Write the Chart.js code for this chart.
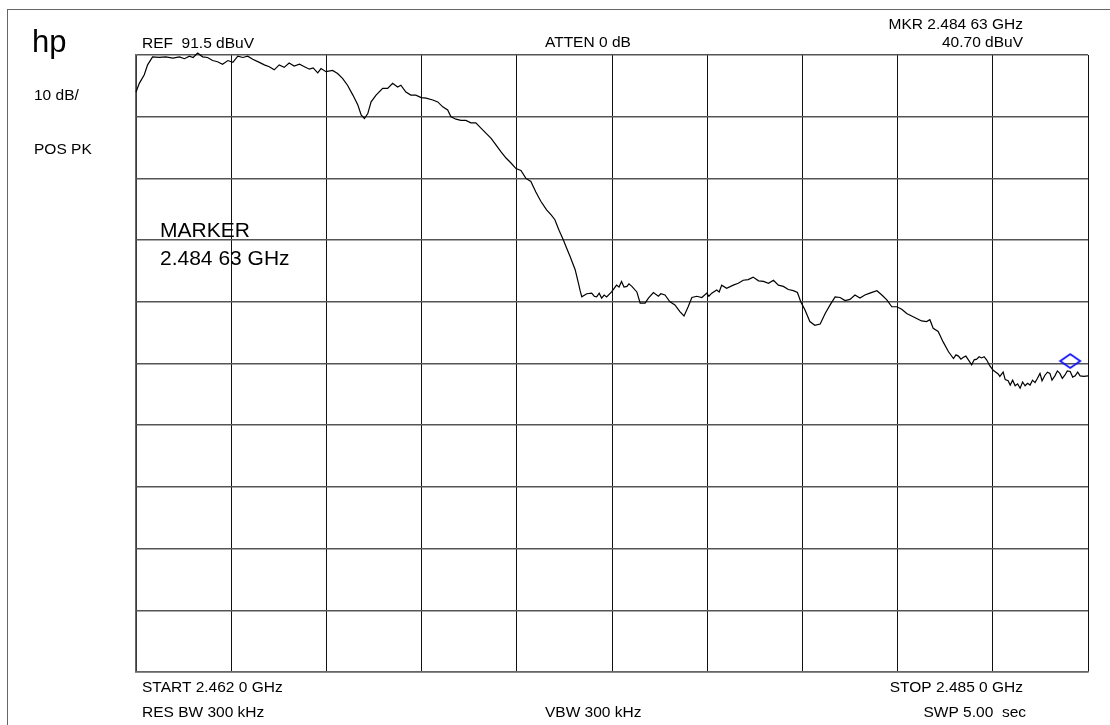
<!DOCTYPE html>
<html>
<head>
<meta charset="utf-8">
<title>Spectrum plot</title>
<script src="https://cdn.jsdelivr.net/npm/chart.js@4/dist/chart.umd.min.js"></script>
<style>
  html, body { margin: 0; padding: 0; background: #fff; }
  #wrap { width: 1110px; height: 725px; position: relative; }
</style>
</head>
<body>
<div id="wrap"><canvas id="myChart" width="1110" height="725"></canvas></div>
<script>
// sweep settings (GHz shown as MHz on the x scale)
var startMHz = 2462.0;
var stopMHz = 2485.0;
var refLevel = 91.5;   // dBuV, top line
var dbPerDiv = 10;

// trace
var freqMHz = [
  2462.00, 2462.08, 2462.20, 2462.28, 2462.40, 2462.56, 2462.72, 2462.89, 2463.05, 2463.17,
  2463.29, 2463.38, 2463.49, 2463.61, 2463.73, 2463.85, 2463.97, 2464.09, 2464.22, 2464.34,
  2464.46, 2464.58, 2464.70, 2464.82, 2464.98, 2465.10, 2465.22, 2465.34, 2465.46, 2465.58,
  2465.70, 2465.82, 2465.95, 2466.07, 2466.19, 2466.28, 2466.39, 2466.47, 2466.59, 2466.75,
  2466.87, 2466.99, 2467.11, 2467.24, 2467.36, 2467.44, 2467.52, 2467.60, 2467.68, 2467.80,
  2467.96, 2468.08, 2468.20, 2468.32, 2468.40, 2468.52, 2468.64, 2468.76, 2468.89, 2469.01,
  2469.17, 2469.29, 2469.41, 2469.53, 2469.61, 2469.73, 2469.85, 2469.97, 2470.09, 2470.21,
  2470.34, 2470.46, 2470.58, 2470.70, 2470.82, 2470.94, 2471.06, 2471.18, 2471.30, 2471.42,
  2471.54, 2471.66, 2471.78, 2471.92, 2472.03, 2472.12, 2472.22, 2472.32, 2472.41, 2472.49,
  2472.61, 2472.69, 2472.73, 2472.77, 2472.89, 2473.01, 2473.07, 2473.13, 2473.19, 2473.25,
  2473.31, 2473.37, 2473.49, 2473.61, 2473.67, 2473.73, 2473.79, 2473.86, 2473.91, 2473.98,
  2474.10, 2474.18, 2474.30, 2474.38, 2474.50, 2474.62, 2474.68, 2474.78, 2474.90, 2475.02,
  2475.14, 2475.24, 2475.34, 2475.43, 2475.55, 2475.67, 2475.79, 2475.84, 2475.91, 2476.03,
  2476.09, 2476.15, 2476.27, 2476.43, 2476.55, 2476.67, 2476.79, 2476.91, 2477.04, 2477.16,
  2477.28, 2477.40, 2477.52, 2477.64, 2477.76, 2477.88, 2477.98, 2478.06, 2478.16, 2478.28,
  2478.40, 2478.53, 2478.65, 2478.77, 2478.89, 2479.01, 2479.13, 2479.25, 2479.37, 2479.49,
  2479.61, 2479.73, 2479.90, 2480.02, 2480.14, 2480.26, 2480.38, 2480.50, 2480.62, 2480.74,
  2480.86, 2480.98, 2481.10, 2481.18, 2481.26, 2481.38, 2481.50, 2481.63, 2481.75, 2481.81,
  2481.87, 2481.93, 2481.99, 2482.05, 2482.11, 2482.19, 2482.25, 2482.31, 2482.37, 2482.43,
  2482.49, 2482.55, 2482.63, 2482.71, 2482.75, 2482.83, 2482.87, 2482.95, 2483.00, 2483.07,
  2483.12, 2483.18, 2483.24, 2483.30, 2483.36, 2483.42, 2483.48, 2483.54, 2483.60, 2483.66,
  2483.72, 2483.78, 2483.84, 2483.89, 2483.96, 2484.02, 2484.08, 2484.13, 2484.20, 2484.26,
  2484.32, 2484.38, 2484.44, 2484.50, 2484.57, 2484.63, 2484.69, 2484.75, 2484.81, 2484.90,
  2485.00
];
var levelDbuV = [
  85.5, 86.9, 88.3, 89.9, 91.2, 91.1, 91.2, 91.0, 91.2, 90.9,
  91.3, 91.1, 91.8, 91.2, 91.1, 90.6, 90.4, 90.0, 90.6, 90.3,
  91.3, 91.1, 91.3, 90.8, 90.3, 89.9, 89.6, 89.1, 89.9, 89.5,
  90.2, 89.7, 90.0, 89.6, 89.2, 89.4, 88.6, 89.3, 88.8, 89.0,
  88.5, 87.7, 86.6, 85.0, 83.4, 81.8, 81.2, 82.0, 83.9, 85.0,
  86.1, 86.1, 86.9, 86.3, 86.6, 85.5, 85.0, 85.0, 84.6, 84.5,
  84.2, 83.9, 83.1, 82.6, 81.5, 81.1, 80.9, 80.9, 80.5, 80.5,
  79.6, 78.8, 78.0, 76.9, 75.8, 74.8, 74.0, 73.1, 72.8, 71.5,
  71.0, 69.3, 67.8, 66.4, 65.6, 64.8, 63.1, 61.6, 60.1, 58.8,
  56.7, 54.5, 53.3, 52.3, 52.8, 52.9, 52.4, 52.3, 52.9, 52.1,
  52.6, 52.3, 53.1, 54.2, 53.9, 54.8, 53.9, 54.0, 54.4, 54.0,
  53.1, 51.3, 51.3, 52.1, 53.0, 52.4, 52.8, 52.6, 51.5, 51.0,
  49.9, 49.2, 50.7, 52.2, 52.4, 52.2, 52.9, 52.4, 52.9, 53.4,
  53.1, 54.2, 53.7, 54.2, 54.5, 55.0, 55.1, 55.5, 54.9, 54.8,
  54.5, 55.0, 54.2, 54.0, 53.5, 53.3, 53.0, 51.5, 50.2, 48.3,
  47.7, 47.9, 49.6, 51.0, 52.3, 52.2, 51.7, 51.9, 52.6, 52.1,
  52.6, 52.9, 53.3, 52.6, 51.8, 50.7, 50.7, 50.3, 49.6, 49.2,
  48.8, 48.4, 48.3, 48.6, 47.2, 46.7, 45.0, 43.4, 42.3, 42.9,
  42.7, 42.2, 42.5, 42.7, 42.1, 41.3, 42.1, 42.2, 42.6, 42.4,
  42.6, 42.1, 41.1, 40.4, 40.2, 39.8, 39.4, 40.1, 38.9, 38.7,
  38.0, 38.8, 37.9, 38.2, 37.5, 38.5, 37.9, 38.3, 38.0, 38.8,
  38.4, 39.1, 39.9, 38.7, 39.6, 40.1, 39.9, 38.8, 39.5, 40.3,
  39.9, 39.1, 39.6, 40.3, 40.2, 39.3, 39.5, 40.1, 39.5, 39.4,
  39.5
];

// marker diamond as drawn on screen
var markerFreqMHz = [2484.57];
var markerLevelDbuV = [41.9];

var FONT = "'Liberation Sans', Arial, sans-serif";

var tracePoints = [];
for (var i = 0; i < Math.min(freqMHz.length, levelDbuV.length); i++) {
  tracePoints.push({ x: freqMHz[i], y: levelDbuV[i] });
}
var markerPoints = markerFreqMHz.map(function (f, i) {
  return { x: f, y: markerLevelDbuV[i] };
});

// flat blue diamond for the marker
function makeDiamond() {
  var c = document.createElement("canvas");
  c.width = 24;
  c.height = 18;
  var g = c.getContext("2d");
  g.strokeStyle = "#1010ff";
  g.lineWidth = 1.8;
  g.beginPath();
  g.moveTo(2, 9);
  g.lineTo(12, 2);
  g.lineTo(22, 9);
  g.lineTo(12, 16);
  g.closePath();
  g.stroke();
  return c;
}

// the labels round the screen, like the analyzer prints them
var labelsPlugin = {
  id: "hpLabels",
  beforeDraw: function (chart) {
    var ctx = chart.ctx;
    ctx.save();
    ctx.fillStyle = "#fff";
    ctx.fillRect(0, 0, chart.width, chart.height);
    ctx.strokeStyle = "#666";
    ctx.lineWidth = 1;
    ctx.strokeRect(7.5, 9.5, 1300, 900);
    ctx.restore();
  },
  afterDraw: function (chart) {
    var ctx = chart.ctx;
    ctx.save();
    ctx.fillStyle = "#000";
    ctx.textBaseline = "alphabetic";

    ctx.font = "31px " + FONT;
    ctx.textAlign = "left";
    ctx.fillText("hp", 32, 52);

    ctx.font = "15.5px " + FONT;
    ctx.fillText("10 dB/", 34, 100);
    ctx.fillText("POS PK", 34, 154);
    ctx.fillText("REF  91.5 dBuV", 142, 48);
    ctx.fillText("START 2.462 0 GHz", 142, 692);
    ctx.fillText("RES BW 300 kHz", 142, 717);
    ctx.fillText("ATTEN 0 dB", 545, 47);
    ctx.fillText("VBW 300 kHz", 545, 717);

    ctx.textAlign = "right";
    ctx.fillText("MKR 2.484 63 GHz", 1023, 29);
    ctx.fillText("40.70 dBuV", 1023, 47);
    ctx.fillText("STOP 2.485 0 GHz", 1023, 692);
    ctx.fillText("SWP 5.00  sec", 1026, 717);

    ctx.textAlign = "left";
    ctx.font = "21px " + FONT;
    ctx.fillText("MARKER", 160, 237);
    ctx.fillText("2.484 63 GHz", 160, 265);
    ctx.restore();
  }
};

function createChart() {
  var ctx = document.getElementById("myChart").getContext("2d");
  new Chart(ctx, {
    type: "scatter",
    data: {
      datasets: [
        {
          data: tracePoints,
          showLine: true,
          borderColor: "#000",
          borderWidth: 1.2,
          pointRadius: 0,
          tension: 0,
          clip: 4
        },
        {
          data: markerPoints,
          pointStyle: makeDiamond(),
          pointRadius: 10,
          showLine: false,
          clip: false
        }
      ]
    },
    options: {
      responsive: false,
      animation: false,
      events: [],
      layout: { padding: { left: 136, right: 22, top: 55, bottom: 53 } },
      plugins: { legend: { display: false }, tooltip: { enabled: false } },
      scales: {
        x: {
          type: "linear",
          min: startMHz,
          max: stopMHz,
          ticks: { display: false, stepSize: (stopMHz - startMHz) / 10 },
          grid: { color: "#111", lineWidth: 1, drawTicks: false },
          border: { color: "#666", width: 1.5 }
        },
        y: {
          type: "linear",
          min: refLevel - 10 * dbPerDiv,
          max: refLevel,
          ticks: { display: false, stepSize: dbPerDiv },
          grid: { color: "#555", lineWidth: 1.5, drawTicks: false },
          border: { color: "#666", width: 1.5 }
        }
      }
    },
    plugins: [labelsPlugin]
  });
}
createChart();
</script>
</body>
</html>
